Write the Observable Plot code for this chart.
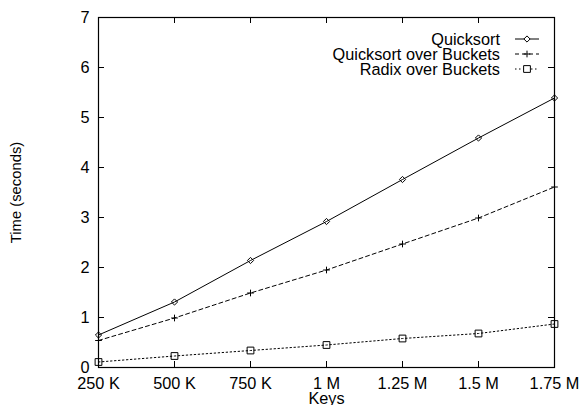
<!DOCTYPE html>
<html>
<head>
<meta charset="utf-8">
<script src="https://cdn.jsdelivr.net/npm/d3@7"></script>
<script src="https://cdn.jsdelivr.net/npm/@observablehq/plot@0.6"></script>
<style>
  html, body { margin: 0; padding: 0; background: white; }
  #chart svg { display: block; }
</style>
</head>
<body>
<div id="chart"></div>
<script>
const keys = [250000, 500000, 750000, 1000000, 1250000, 1500000, 1750000];
const keyLabels = ["250 K", "500 K", "750 K", "1 M", "1.25 M", "1.5 M", "1.75 M"];
const yTicks = [0, 1, 2, 3, 4, 5, 6, 7];
const yTickLabels = ["0", "1", "2", "3", "4", "5", "6", "7"];
const seriesNames = ["Quicksort", "Quicksort over Buckets", "Radix over Buckets"];
const quicksort = [0.65, 1.31, 2.14, 2.92, 3.76, 4.59, 5.39];
const quicksortBuckets = [0.54, 0.99, 1.49, 1.95, 2.47, 2.99, 3.61];
const radixBuckets = [0.11, 0.23, 0.34, 0.45, 0.58, 0.68, 0.87];

const styles = [
  {dash: null, symbol: "diamond2", r: 2.8},
  {dash: "4,3", symbol: "plus", r: 2.3},
  {dash: "1.5,2.5", symbol: "square2", r: 4.3}
];
const seriesValues = [quicksort, quicksortBuckets, radixBuckets];

const W = 579, H = 405;
const mL = 98, mR = 25, mT = 17, mB = 38;
const fw = W - mL - mR, fh = H - mT - mB;
const tick = 6;
const font = "Liberation Sans, Arial, sans-serif";
const fs = 16.3;

const marks = [
  Plot.frame({stroke: "black", strokeWidth: 1.2}),
  Plot.tickY(yTicks, {y: d => d, insetRight: fw - tick, stroke: "black"}),
  Plot.tickY(yTicks, {y: d => d, insetLeft: fw - tick, stroke: "black"}),
  Plot.tickX(keys, {x: d => d, insetTop: fh - tick, stroke: "black"}),
  Plot.tickX(keys, {x: d => d, insetBottom: fh - tick, stroke: "black"}),
  Plot.axisY({ticks: yTicks, tickFormat: d => yTickLabels[yTicks.indexOf(d)], tickSize: 0, tickPadding: 9,
    label: null, fill: "black"}),
  Plot.axisY({ticks: [], label: "Time (seconds)", labelArrow: "none", labelAnchor: "center", labelOffset: 88,
    fill: "black", fontSize: 14.8}),
  Plot.axisX({ticks: keys, tickFormat: d => keyLabels[keys.indexOf(d)], tickSize: 0, tickPadding: 10,
    label: "Keys", labelArrow: "none", labelAnchor: "center", labelOffset: 36, fill: "black"})
];

seriesValues.forEach((vals, s) => {
  const data = keys.map((k, i) => ({k, v: vals[i]}));
  marks.push(Plot.line(data, {x: "k", y: "v", stroke: "black", strokeWidth: 1, strokeDasharray: styles[s].dash}));
  marks.push(Plot.dot(data, {x: "k", y: "v", symbol: styles[s].symbol, r: styles[s].r, stroke: "black", fill: "none", strokeWidth: 1}));
});

const chart = Plot.plot({
  width: W, height: H,
  marginLeft: mL, marginRight: mR, marginTop: mT, marginBottom: mB,
  style: {fontFamily: font, fontSize: fs + "px", color: "black", background: "white"},
  x: {domain: [250000, 1750000]},
  y: {domain: [0, 7]},
  marks
});

// Legend (inside the plot, top right)
const svg = d3.select(chart);
const lg = svg.append("g").attr("font-family", font).attr("font-size", fs);
const symbolTypes = {diamond2: d3.symbolDiamond2, plus: d3.symbolPlus, square2: d3.symbolSquare2};
const textX = 500, lineX1 = 515, lineX2 = 539, rowY0 = 39, rowStep = 15;
seriesNames.forEach((name, s) => {
  const y = rowY0 + s * rowStep;
  lg.append("text").attr("x", textX).attr("y", y).attr("dy", "0.36em").attr("text-anchor", "end").attr("fill", "black").text(name);
  lg.append("line").attr("x1", lineX1).attr("x2", lineX2).attr("y1", y).attr("y2", y)
    .attr("stroke", "black").attr("stroke-width", 1).attr("stroke-dasharray", styles[s].dash);
  lg.append("path").attr("transform", `translate(${(lineX1 + lineX2) / 2},${y})`)
    .attr("d", d3.symbol(symbolTypes[styles[s].symbol], Math.PI * styles[s].r * styles[s].r)())
    .attr("fill", s === 1 ? "none" : "white").attr("stroke", "black").attr("stroke-width", 1);
});

document.getElementById("chart").appendChild(chart);
</script>
</body>
</html>
